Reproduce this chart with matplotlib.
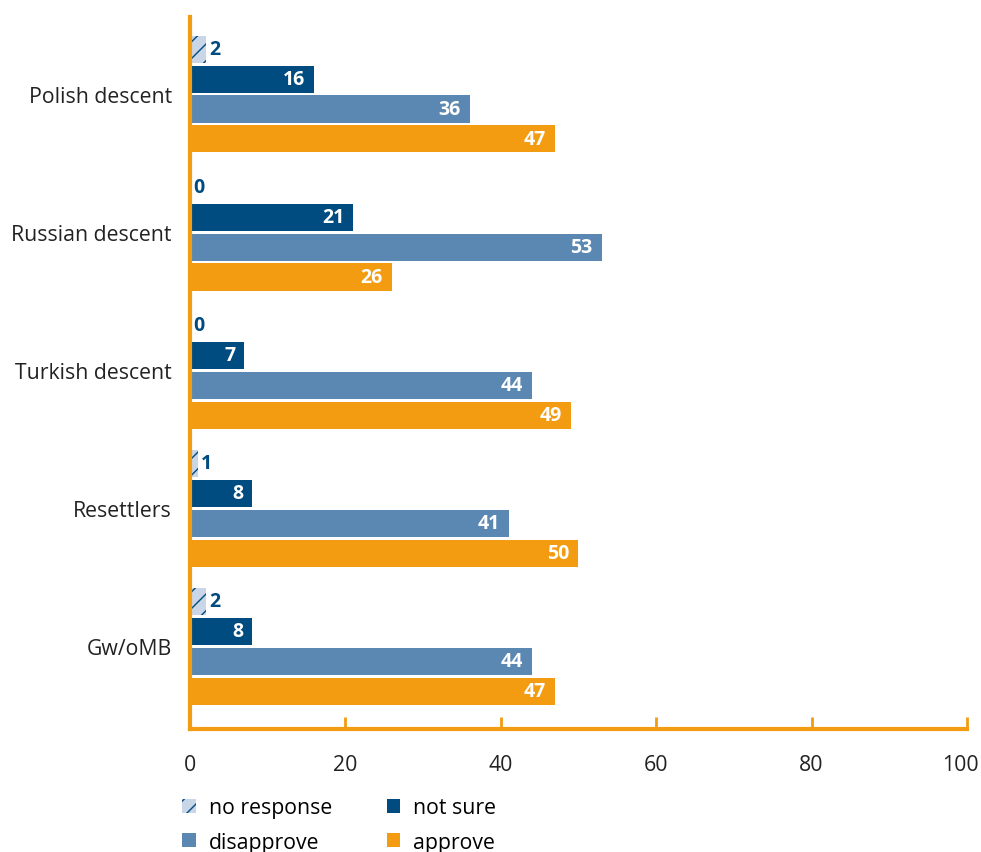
import matplotlib.pyplot as plt
import matplotlib.transforms as mtransforms
from matplotlib.patches import Patch
import numpy as np

plt.rcParams['font.family'] = ['Open Sans', 'DejaVu Sans']
plt.rcParams['hatch.linewidth'] = 1.0

groups = ['Polish descent', 'Russian descent', 'Turkish descent', 'Resettlers', 'Gw/oMB']
series = ['no response', 'not sure', 'disapprove', 'approve']
no_response = [2, 0, 0, 1, 2]
not_sure = [16, 21, 7, 8, 8]
disapprove = [36, 53, 44, 41, 44]
approve = [47, 26, 49, 50, 47]

ORANGE = '#F39C12'
DARK = '#004B7F'
MID = '#5B88B2'
LIGHT = '#C8D6E8'
FS = 15.3

fig = plt.figure(figsize=(9.81, 8.53), dpi=100)
ax = fig.add_axes([0.1937, 0.1442, 0.792, 0.835])

y = np.arange(len(groups))
pitch = 0.217
h = 0.196

def bars(vals, off, color, hatch=None, inside=True):
    # hatch lines take the edge colour, so the outline itself is switched off
    rects = ax.barh(y + off, vals, height=h, color=color, hatch=hatch,
                    edgecolor=DARK if hatch else color, linewidth=0)
    for r, v in zip(rects, vals):
        cy = r.get_y() + r.get_height() / 2
        if inside:
            ax.annotate(str(v), (v, cy), xytext=(-6.5, 0), textcoords='offset points',
                        ha='right', va='center', color='white', fontsize=14, fontweight='bold')
        else:
            ax.annotate(str(v), (v, cy), xytext=(2.5, 0), textcoords='offset points',
                        ha='left', va='center', color=DARK, fontsize=14, fontweight='bold')

bars(no_response, -1.5 * pitch, LIGHT, hatch='//', inside=False)
bars(not_sure, -0.5 * pitch, DARK)
bars(disapprove, 0.5 * pitch, MID)
bars(approve, 1.5 * pitch, ORANGE)

ax.set_xlim(0, 100)
ax.set_ylim(4.6, -0.56)
ax.set_yticks(y)
ax.set_yticklabels(groups, fontsize=FS, color='#222222')
ax.tick_params(axis='y', length=0, pad=13)
ax.set_xticks([0, 20, 40, 60, 80, 100])
ax.tick_params(axis='x', direction='in', length=9, width=2, color=ORANGE,
               labelsize=FS, labelcolor='#222222', pad=18)
# keep the "100" label inside the canvas
last = ax.get_xticklabels()[-1]
last.set_transform(last.get_transform() + mtransforms.ScaledTranslation(-5 / 72, 0, fig.dpi_scale_trans))

for s in ['top', 'right']:
    ax.spines[s].set_visible(False)
for s in ['left', 'bottom']:
    ax.spines[s].set_color(ORANGE)
    ax.spines[s].set_linewidth(3)

handles = [Patch(facecolor=LIGHT, hatch='//', edgecolor=DARK, linewidth=0, label='no response'),
           Patch(facecolor=MID, label='disapprove'),
           Patch(facecolor=DARK, label='not sure'),
           Patch(facecolor=ORANGE, label='approve')]
fig.legend(handles=handles, loc='upper left', bbox_to_anchor=(0.186, 0.064), ncol=2,
           frameon=False, fontsize=FS, handlelength=0.63, handleheight=0.63,
           handletextpad=0.6, columnspacing=2.6, labelspacing=0.62,
           borderaxespad=0, borderpad=0)

fig.savefig('out.png', dpi=100)
